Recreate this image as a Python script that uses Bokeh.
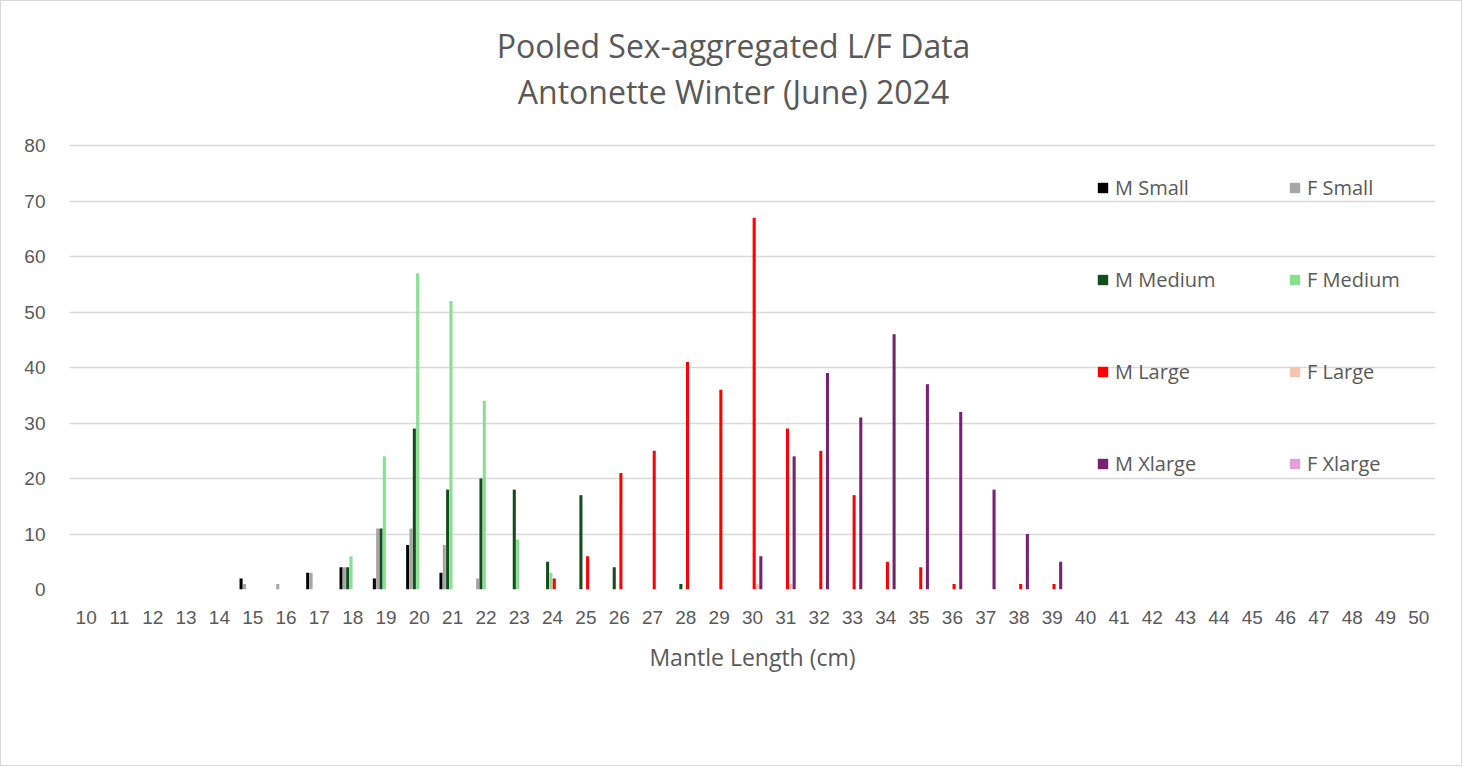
from bokeh.plotting import figure
from bokeh.models import ColumnDataSource, Legend, LegendItem, FixedTicker, Label
from bokeh.embed import file_html
from bokeh.resources import INLINE

lengths = [10, 11, 12, 13, 14, 15, 16, 17, 18, 19, 20, 21, 22, 23, 24, 25, 26, 27, 28, 29,
           30, 31, 32, 33, 34, 35, 36, 37, 38, 39, 40, 41, 42, 43, 44, 45, 46, 47, 48, 49, 50]

m_small  = [0, 0, 0, 0, 0, 2, 0, 3, 4, 2, 8, 3, 0, 0, 0, 0, 0, 0, 0, 0, 0, 0, 0, 0, 0, 0, 0, 0, 0, 0, 0, 0, 0, 0, 0, 0, 0, 0, 0, 0, 0]
f_small  = [0, 0, 0, 0, 0, 1, 1, 3, 4, 11, 11, 8, 2, 0, 0, 0, 0, 0, 0, 0, 0, 0, 0, 0, 0, 0, 0, 0, 0, 0, 0, 0, 0, 0, 0, 0, 0, 0, 0, 0, 0]
m_medium = [0, 0, 0, 0, 0, 0, 0, 0, 4, 11, 29, 18, 20, 18, 5, 17, 4, 0, 1, 0, 0, 0, 0, 0, 0, 0, 0, 0, 0, 0, 0, 0, 0, 0, 0, 0, 0, 0, 0, 0, 0]
f_medium = [0, 0, 0, 0, 0, 0, 0, 0, 6, 24, 57, 52, 34, 9, 3, 0, 0, 0, 0, 0, 0, 0, 0, 0, 0, 0, 0, 0, 0, 0, 0, 0, 0, 0, 0, 0, 0, 0, 0, 0, 0]
m_large  = [0, 0, 0, 0, 0, 0, 0, 0, 0, 0, 0, 0, 0, 0, 2, 6, 21, 25, 41, 36, 67, 29, 25, 17, 5, 4, 1, 0, 1, 1, 0, 0, 0, 0, 0, 0, 0, 0, 0, 0, 0]
f_large  = [0, 0, 0, 0, 0, 0, 0, 0, 0, 0, 0, 0, 0, 0, 0, 0, 0, 0, 0, 0, 1, 1, 0, 0, 0, 0, 0, 0, 0, 0, 0, 0, 0, 0, 0, 0, 0, 0, 0, 0, 0]
m_xlarge = [0, 0, 0, 0, 0, 0, 0, 0, 0, 0, 0, 0, 0, 0, 0, 0, 0, 0, 0, 0, 6, 24, 39, 31, 46, 37, 32, 18, 10, 5, 0, 0, 0, 0, 0, 0, 0, 0, 0, 0, 0]
f_xlarge = [0, 0, 0, 0, 0, 0, 0, 0, 0, 0, 0, 0, 0, 0, 0, 0, 0, 0, 0, 0, 0, 0, 0, 0, 0, 0, 0, 0, 0, 0, 0, 0, 0, 0, 0, 0, 0, 0, 0, 0, 0]

series_names = ["M Small", "F Small", "M Medium", "F Medium", "M Large", "F Large", "M Xlarge", "F Xlarge"]
series_values = [m_small, f_small, m_medium, f_medium, m_large, f_large, m_xlarge, f_xlarge]
series_colors = ["#000000", "#A6A6A6", "#144D1C", "#86E08F", "#FF0000", "#F6C6AD", "#79206F", "#E49EDC"]

y_ticks = [0, 10, 20, 30, 40, 50, 60, 70, 80]
title_line1 = "Pooled Sex-aggregated L/F Data"
title_line2 = "Antonette Winter (June) 2024"
x_title = "Mantle Length (cm)"

TEXT = "#595959"
GRID = "#d9d9d9"

# the frame extends above the value axis (0-80) to hold the two-line title
p = figure(width=1462, height=766, x_range=(9.5, 50.5), y_range=(0, 105.6),
           output_backend="svg", toolbar_location=None,
           min_border_left=68, min_border_right=28, min_border_top=2, min_border_bottom=178)
p.styles = {"border": "1px solid #d9d9d9"}
p.outline_line_color = None
p.background_fill_color = "white"

renderers = {}
n = len(series_names)
bw = 0.1
for i, (name, vals, col) in enumerate(zip(series_names, series_values, series_colors)):
    off = (i - (n - 1) / 2) * bw
    src = ColumnDataSource(dict(x=[l + off for l in lengths], top=vals))
    r = p.vbar(x="x", top="top", width=bw * 0.92, bottom=0, source=src,
               fill_color=col, line_color=None)
    renderers[name] = r

# axes
p.xaxis.ticker = FixedTicker(ticks=lengths)
p.yaxis.ticker = FixedTicker(ticks=y_ticks)
for ax in (p.xaxis[0], p.yaxis[0]):
    ax.axis_line_color = None
    ax.major_tick_line_color = None
    ax.minor_tick_line_color = None
    ax.major_label_text_color = TEXT
    ax.major_label_text_font = "Liberation Sans"
    ax.major_label_text_font_size = "19px"
p.xaxis.major_label_standoff = 15
p.yaxis.major_label_standoff = 18
p.xaxis.axis_label = x_title
p.xaxis.axis_label_text_font = "Open Sans"
p.xaxis.axis_label_text_font_style = "normal"
p.xaxis.axis_label_text_font_size = "23px"
p.xaxis.axis_label_text_color = TEXT
p.xaxis.axis_label_standoff = 14

p.xgrid.grid_line_color = None
p.ygrid.grid_line_color = GRID
p.ygrid.grid_line_width = 1.5

# two-line title
for txt, yy in ((title_line1, 98.0), (title_line2, 89.7)):
    p.add_layout(Label(x=29.43, y=yy, text=txt, text_align="center", text_baseline="middle",
                       text_font="Open Sans", text_font_size="32px", text_color=TEXT))

# legend (two columns)
order = ["M Small", "M Medium", "M Large", "M Xlarge", "F Small", "F Medium", "F Large", "F Xlarge"]
legend = Legend(items=[LegendItem(label=nm, renderers=[renderers[nm]]) for nm in order],
                location=(1027, 80), orientation="vertical", nrows=4,
                glyph_width=13, glyph_height=13, label_standoff=6,
                label_width=173, label_height=92, spacing=0, padding=0, margin=0,
                label_text_font="Open Sans", label_text_font_size="20px", label_text_color=TEXT,
                background_fill_alpha=0, border_line_alpha=0)
p.add_layout(legend)

open("out.html", "w").write(file_html(p, INLINE))
